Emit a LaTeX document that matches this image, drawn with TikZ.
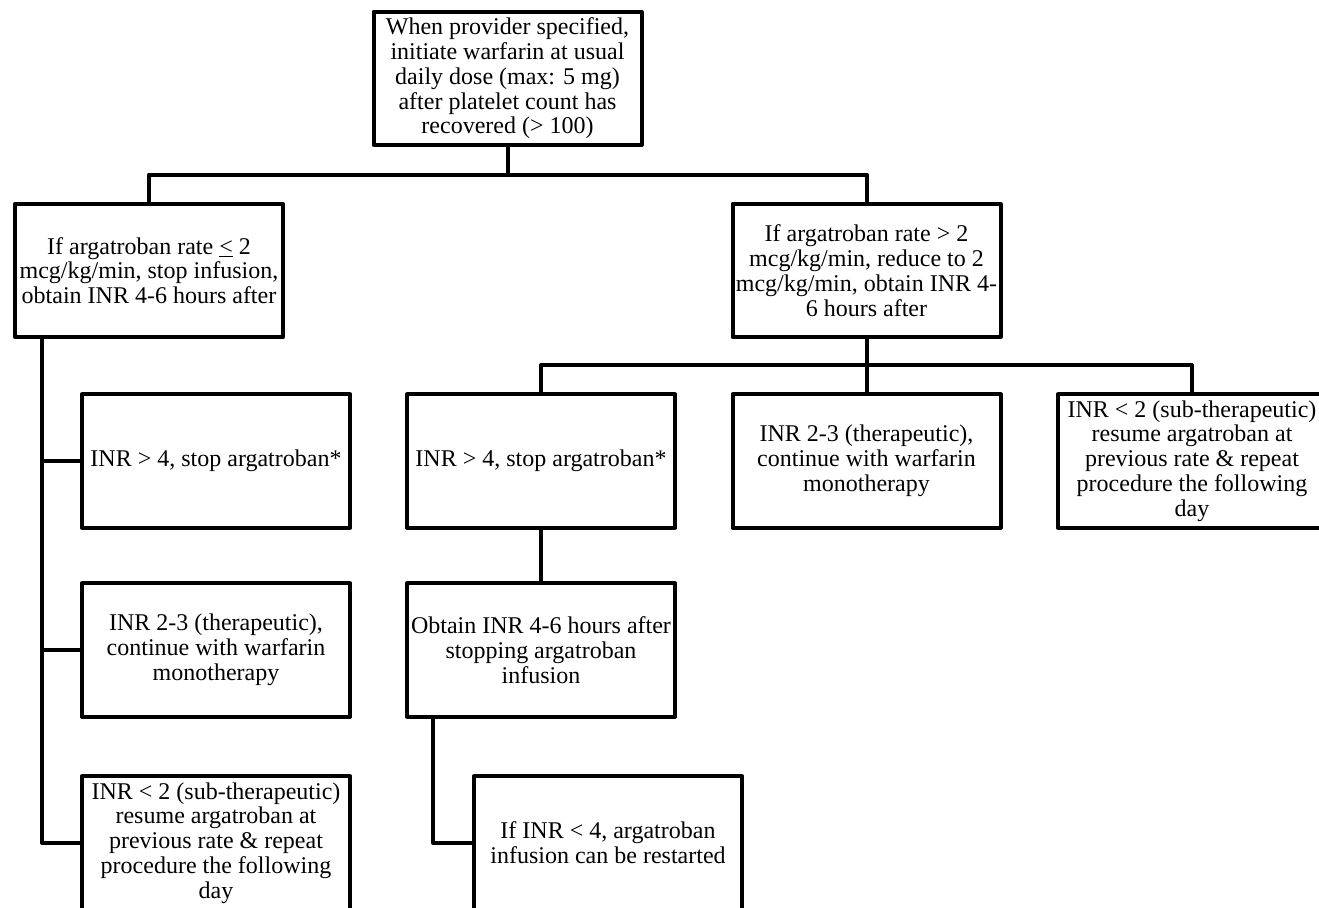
\documentclass[tikz,border=0pt]{standalone}
\usepackage{fontspec}
\setmainfont{Liberation Serif}
\usetikzlibrary{positioning, calc}

\begin{document}
\begin{tikzpicture}[x=0.75pt, y=-0.75pt, line cap=round, line join=round,
    stepbox/.style={draw, line width=3pt, minimum width=201pt, minimum height=100pt,
      inner xsep=0pt, inner ysep=2pt, align=center, font=\fontsize{18pt}{18.6pt}\selectfont},
    link/.style={line width=3pt}]
  \useasboundingbox (0,0) rectangle (1319,907);
  \clip (0,0) rectangle (1319,907);

  % Inicio con warfarina
  \node[stepbox] (start) at (507.5,78.5) {When provider specified,\\initiate warfarin at usual\\daily dose (max: 5 mg)\\after platelet count has\\recovered (> 100)};

  % Dos ramas segun la dosis de argatroban
  \node[stepbox] (lowrate) at (149,270.5) {If argatroban rate \underline{<} 2\\mcg/kg/min, stop infusion,\\obtain INR 4-6 hours after};
  \node[stepbox] (highrate) at (866.5,270.5) {If argatroban rate > 2\\mcg/kg/min, reduce to 2\\mcg/kg/min, obtain INR 4-\\6 hours after};

  % Columna izquierda
  \node[stepbox] (lowhigh) at (216,461) {INR > 4, stop argatroban*};
  \node[stepbox] (lowther) at (216,650) {INR 2-3 (therapeutic),\\continue with warfarin\\monotherapy};
  \node[stepbox] (lowsub) at (216,843) {INR < 2 (sub-therapeutic)\\resume argatroban at\\previous rate \& repeat\\procedure the following\\day};

  % Fila de resultados de la rama derecha
  \node[stepbox] (highhigh) at (541,461) {INR > 4, stop argatroban*};
  \node[stepbox] (highther) at (866.5,461) {INR 2-3 (therapeutic),\\continue with warfarin\\monotherapy};
  \node[stepbox] (highsub) at (1192,461) {INR < 2 (sub-therapeutic)\\resume argatroban at\\previous rate \& repeat\\procedure the following\\day};

  % Seguimiento tras suspender
  \node[stepbox] (recheck) at (541,650) {Obtain INR 4-6 hours after\\stopping argatroban\\infusion};
  \node[stepbox] (restart) at (608,843) {If INR < 4, argatroban\\infusion can be restarted};

  % Conectores
  \coordinate (split1) at (507.5,174.5);
  \coordinate (split2) at (866.5,365);
  \coordinate (leftbus) at (42,339);
  \coordinate (midbus) at (433,719);

  \draw[link] (start.south) -- (split1);
  \draw[link] (lowrate.north) |- (split1) -| (highrate.north);
  \draw[link] (highrate.south) -- (highther.north);
  \draw[link] (highhigh.north) |- (split2) -| (highsub.north);
  \draw[link] (lowrate.south -| leftbus) |- (lowsub.west);
  \draw[link] (leftbus |- lowhigh.west) -- (lowhigh.west);
  \draw[link] (leftbus |- lowther.west) -- (lowther.west);
  \draw[link] (highhigh.south) -- (recheck.north);
  \draw[link] (recheck.south -| midbus) |- (restart.west);
\end{tikzpicture}
\end{document}
